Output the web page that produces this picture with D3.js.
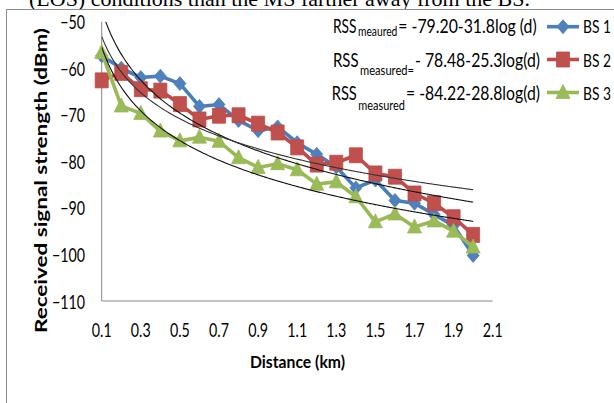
<!DOCTYPE html>
<html><head><meta charset="utf-8">
<script src="https://cdn.jsdelivr.net/npm/d3@7"></script>
<style>html,body{margin:0;padding:0;background:#fff;overflow:hidden}</style>
</head><body>
<svg id="c" width="614" height="403"></svg>
<script>
// ---- data ----
const distances = [0.1,0.2,0.3,0.4,0.5,0.6,0.7,0.8,0.9,1.0,1.1,1.2,1.3,1.4,1.5,1.6,1.7,1.8,1.9,2.0];
const bs1 = [-57.3,-60.0,-62.0,-61.7,-63.3,-68.2,-67.8,-71.2,-73.4,-72.6,-76.0,-78.5,-81.2,-85.7,-84.0,-88.4,-89.0,-91.4,-93.8,-100.2];
const bs2 = [-62.6,-61.0,-64.5,-64.8,-67.7,-71.0,-70.2,-70.1,-71.9,-73.8,-77.0,-80.7,-80.3,-78.7,-82.6,-83.3,-86.9,-89.0,-92.0,-95.8];
const bs3 = [-56.6,-68.1,-69.7,-73.5,-75.6,-74.8,-75.7,-79.2,-81.3,-80.5,-81.8,-84.9,-84.4,-87.6,-93.0,-91.3,-94.1,-92.8,-95.0,-98.4];
const seriesNames = ["BS 1","BS 2","BS 3"];
const yTicks = [-50,-60,-70,-80,-90,-100,-110];
const xTicks = [0.1,0.3,0.5,0.7,0.9,1.1,1.3,1.5,1.7,1.9,2.1];
const trendIntercepts = [-79.20,-78.48,-84.22];
const trendSlopes = [-31.8,-25.3,-28.8];
const eqSubs = ["meaured","measured=","measured"];
const eqRest = ["= -79.20-31.8log (d)","- 78.48-25.3log(d)","= -84.22-28.8log(d)"];

const colors = ["#4A7EBB","#BE4B48","#98B954"];
const fills = ["#4F81BD","#C0504D","#9BBB59"];

const svg = d3.select("#c");
const F = "Lato, 'Open Sans', sans-serif";

// cropped paper text above
svg.append("text").attr("x",530).attr("y",5.5).attr("text-anchor","end")
  .attr("font-family","'Liberation Serif', 'Times New Roman', serif").attr("font-size",22)
  .attr("fill","#000").text("(LOS) conditions than the MS farther away from the BS.");

// chart frame
svg.append("rect").attr("x",6.5).attr("y",9.5).attr("width",700).attr("height",500)
  .attr("fill","#fff").attr("stroke","#8c8c8c").attr("stroke-width",1);

const x = d3.scaleLinear().domain([0.1,2.1]).range([101.7,492.7]);
const y = d3.scaleLinear().domain([-110,-50]).range([301,21.7]);

// axes lines
svg.append("line").attr("x1",x(0.1)).attr("x2",x(0.1)).attr("y1",y(-50)).attr("y2",y(-110))
  .attr("stroke","#868686").attr("stroke-width",1);
svg.append("line").attr("x1",x(0.1)).attr("x2",x(2.1)).attr("y1",y(-110)).attr("y2",y(-110))
  .attr("stroke","#868686").attr("stroke-width",1);

// tick labels (stretched look)
const sx = 0.77;
yTicks.forEach(v=>{
  svg.append("text").attr("transform",`translate(85,${y(v)+7.5}) scale(${sx},1)`)
    .attr("text-anchor","end").attr("font-family",F).attr("font-size",18.5).attr("fill","#000")
    .text(d3.format("d")(v));
});
xTicks.forEach(v=>{
  svg.append("text").attr("transform",`translate(${x(v)},336.5) scale(${sx},1)`)
    .attr("text-anchor","middle").attr("font-family",F).attr("font-size",18.5).attr("fill","#000")
    .text(d3.format(".1f")(v));
});

// axis titles
svg.append("text").attr("x",297.5).attr("y",368.3).attr("text-anchor","middle")
  .attr("font-family",F).attr("font-weight","bold").attr("font-size",17)
  .attr("textLength",95).attr("lengthAdjust","spacingAndGlyphs").text("Distance (km)");
svg.append("text").attr("transform","translate(47,180.5) rotate(-90)").attr("text-anchor","middle")
  .attr("font-family",F).attr("font-weight","bold").attr("font-size",16.3)
  .attr("textLength",305).attr("lengthAdjust","spacingAndGlyphs").text("Received signal strength (dBm)");

// markers
function markerPath(i){
  if(i===0) return "M0,-7L6,0L0,7L-6,0Z";
  if(i===1) return "M-6.5,-7.5H6.5V7.5H-6.5Z";
  return "M0,-8L7,6H-7Z";
}

const line = d3.line().x((d,i)=>x(distances[i])).y(d=>y(d));
const series = [bs1,bs2,bs3];
series.forEach((s,k)=>{
  svg.append("path").attr("d",line(s)).attr("fill","none")
    .attr("stroke",colors[k]).attr("stroke-width",3.6).attr("stroke-linejoin","round");
  svg.selectAll(null).data(s).enter().append("path")
    .attr("transform",(d,i)=>`translate(${x(distances[i])},${y(d)})`)
    .attr("d",markerPath(k)).attr("fill",fills[k]).attr("stroke",colors[k]).attr("stroke-width",0.8);
});

// trend curves (from given equations), clipped to plot area
svg.append("clipPath").attr("id","pc").append("rect")
  .attr("x",x(0.1)).attr("y",y(-50)).attr("width",x(2.1)-x(0.1)).attr("height",y(-110)-y(-50));
const dd = d3.range(0.1,2.0001,0.01);
const tl = d3.line().x(d=>x(d[0])).y(d=>y(d[1])).curve(d3.curveMonotoneX);
trendIntercepts.forEach((a,k)=>{
  const b = trendSlopes[k];
  svg.append("path").attr("clip-path","url(#pc)")
    .attr("d",tl(dd.map(d=>[d,a+b*Math.log10(d)])))
    .attr("fill","none").attr("stroke", k===1 ? "#333" : "#111").attr("stroke-width",1.1);
});

// legend
const legY = [26.7,59.5,92.5];
const legBase = [33.3,66.7,100];
seriesNames.forEach((n,k)=>{
  svg.append("line").attr("x1",547).attr("x2",579).attr("y1",legY[k]).attr("y2",legY[k])
    .attr("stroke",colors[k]).attr("stroke-width",3.6);
  svg.append("path").attr("transform",`translate(563,${legY[k]})`).attr("d",markerPath(k))
    .attr("fill",fills[k]).attr("stroke",colors[k]).attr("stroke-width",0.8);
  svg.append("text").attr("x",583).attr("y",legBase[k]).attr("font-family",F).attr("font-size",17.5)
    .attr("textLength",28).attr("lengthAdjust","spacingAndGlyphs").text(n);
});

// equations
const eqX = [[333,358,398.3,536.7],[333,360,415,540],[331.7,358.3,406,540]];
const eqSubBase = [36.2,75,110];
eqSubs.forEach((sub,k)=>{
  const p = eqX[k];
  svg.append("text").attr("x",p[0]).attr("y",legBase[k]).attr("font-family",F).attr("font-size",20)
    .attr("textLength",p[1]-p[0]-1.5).attr("lengthAdjust","spacingAndGlyphs").text("RSS");
  svg.append("text").attr("x",p[1]).attr("y",eqSubBase[k]).attr("font-family",F).attr("font-size",13)
    .attr("textLength",p[2]-p[1]-1).attr("lengthAdjust","spacingAndGlyphs").text(sub);
  svg.append("text").attr("x",p[2]).attr("y",legBase[k]).attr("font-family",F).attr("font-size",20)
    .attr("textLength",p[3]-p[2]).attr("lengthAdjust","spacingAndGlyphs").text(eqRest[k]);
});
</script>
</body></html>
